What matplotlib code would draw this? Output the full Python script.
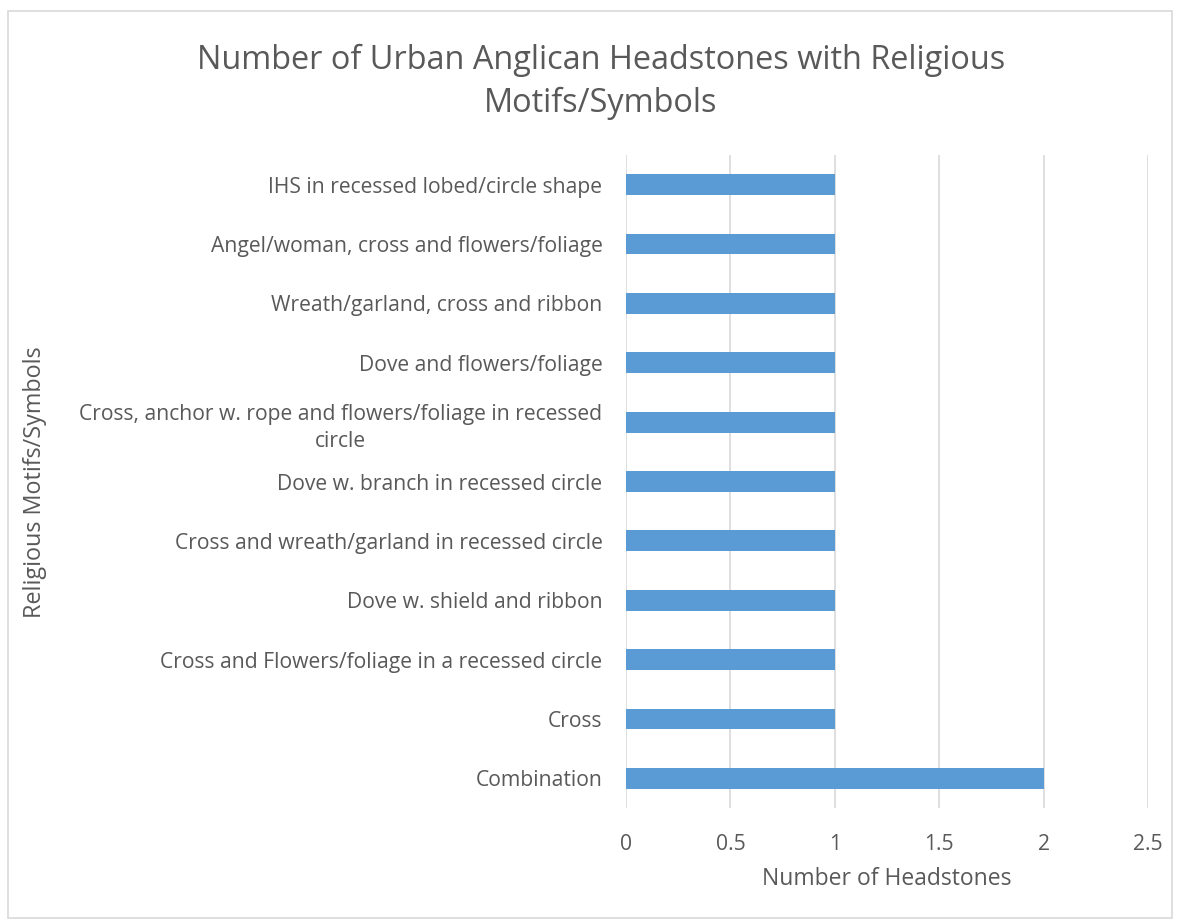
import matplotlib.pyplot as plt
from matplotlib.patches import Rectangle

# categories from bottom to top
categories = [
    "Combination",
    "Cross",
    "Cross and Flowers/foliage in a recessed circle",
    "Dove w. shield and ribbon",
    "Cross and wreath/garland in recessed circle",
    "Dove w. branch in recessed circle",
    "Cross, anchor w. rope and flowers/foliage in recessed\ncircle",
    "Dove and flowers/foliage",
    "Wreath/garland, cross and ribbon",
    "Angel/woman, cross and flowers/foliage",
    "IHS in recessed lobed/circle shape",
]
counts = [2, 1, 1, 1, 1, 1, 1, 1, 1, 1, 1]
x_ticks = [0, 0.5, 1, 1.5, 2, 2.5]
x_tick_labels = ["0", "0.5", "1", "1.5", "2", "2.5"]

plt.rcParams['font.family'] = ['Open Sans', 'DejaVu Sans']
text_color = '#595959'

fig = plt.figure(figsize=(11.8, 9.19), dpi=100)
# chart border
fig.patches.append(Rectangle((8 / 1180, 1 - 918 / 919), 1164 / 1180, 907 / 919,
                             transform=fig.transFigure, fill=False,
                             edgecolor='#D9D9D9', linewidth=1.2))

ax = fig.add_axes([626 / 1180, 1 - 808 / 919, 522 / 1180, 653 / 919])
ax.barh(range(len(categories)), counts, height=0.35, color='#5B9BD5', zorder=3)
ax.set_xlim(0, 2.5)
ax.set_ylim(-0.5, len(categories) - 0.5)
ax.set_xticks(x_ticks)
ax.set_xticklabels(x_tick_labels)
ax.set_yticks(range(len(categories)))
ax.set_yticklabels(categories, multialignment='center', linespacing=1.4)
ax.grid(axis='x', color='#D9D9D9', linewidth=1.2, zorder=0)
for s in ax.spines.values():
    s.set_visible(False)
ax.tick_params(axis='both', length=0, labelsize=15.2, labelcolor=text_color)
ax.tick_params(axis='x', pad=19)
ax.tick_params(axis='y', pad=17)

fig.text(601 / 1180, 1 - 82 / 919,
         "Number of Urban Anglican Headstones with Religious\nMotifs/Symbols",
         ha='center', va='center', fontsize=23.4, color=text_color, linespacing=1.38)
fig.text(887 / 1180, 1 - 879 / 919, "Number of Headstones",
         ha='center', va='center', fontsize=16.5, color=text_color)
fig.text(35 / 1180, 1 - 482 / 919, "Religious Motifs/Symbols", rotation=90,
         ha='center', va='center', fontsize=16.8, color=text_color)

fig.savefig('out.png', dpi=100)
